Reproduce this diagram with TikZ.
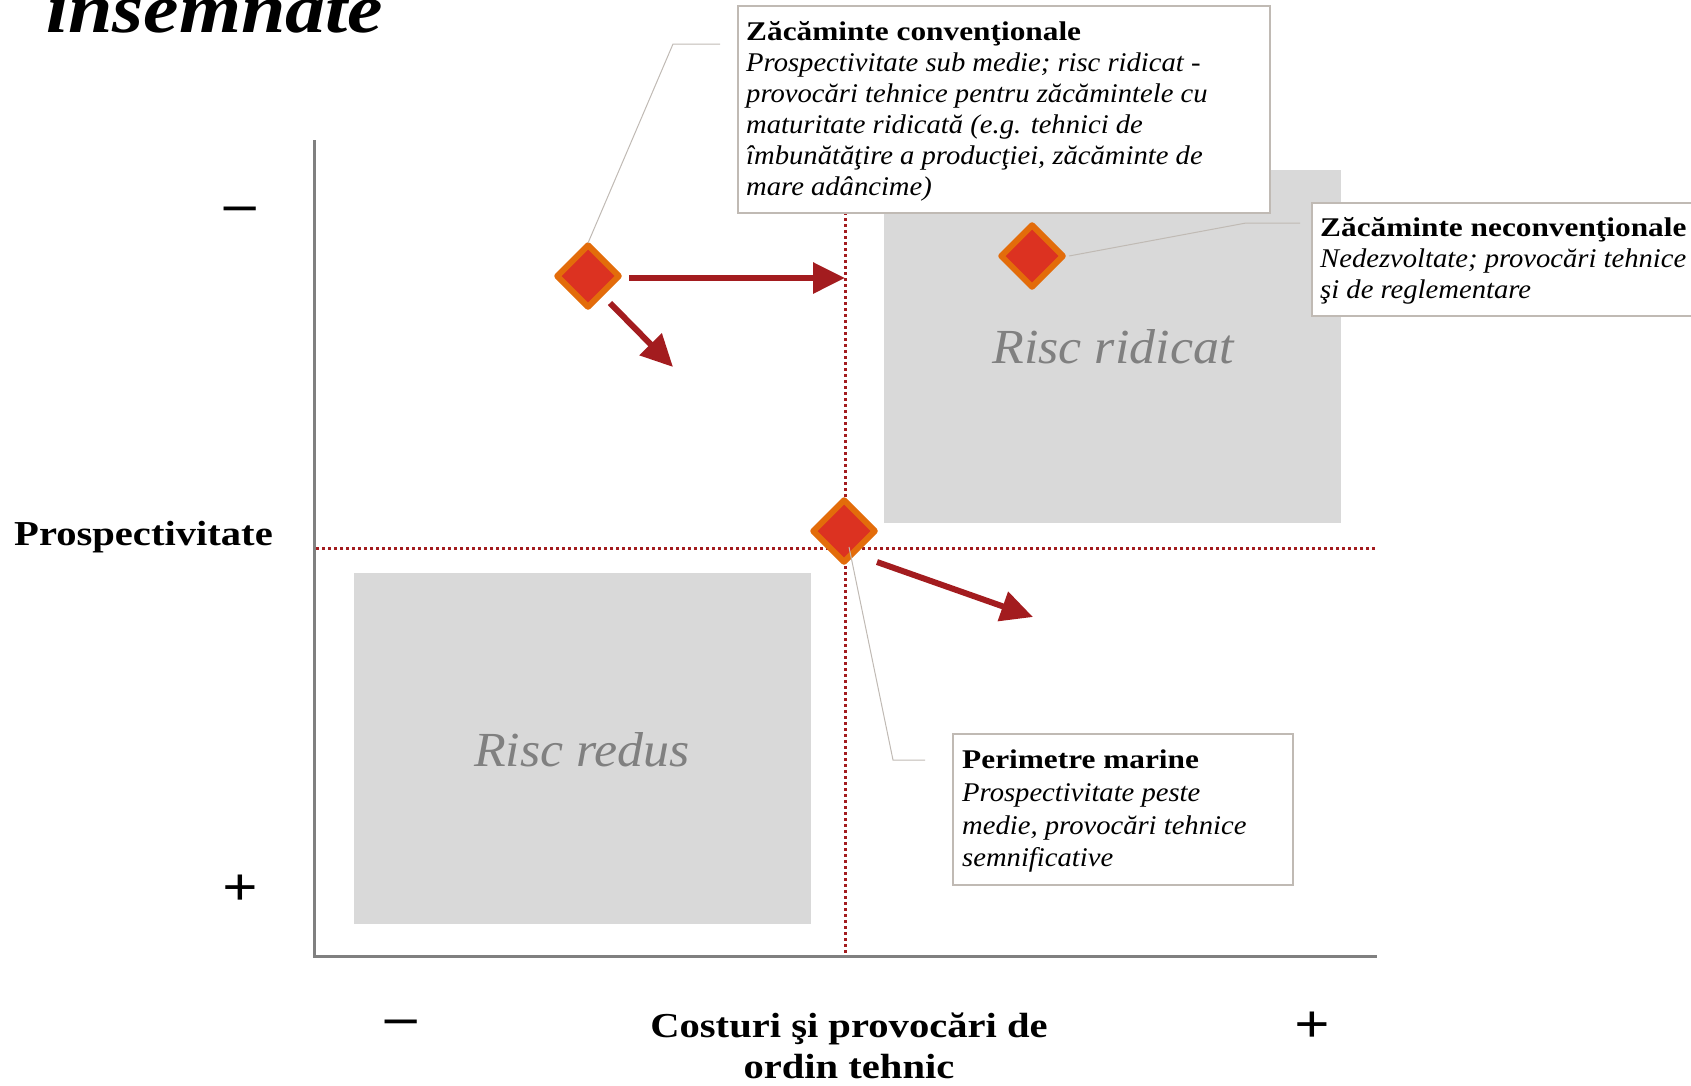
\documentclass[tikz,border=0pt]{standalone}
\usepackage{fontspec}
\setmainfont{Liberation Serif}[ItalicFeatures={FakeStretch=1.06}, BoldFeatures={FakeStretch=1.16}, BoldItalicFeatures={FakeStretch=1.14}]
\usetikzlibrary{arrows.meta,shapes.geometric}
\definecolor{zonegray}{HTML}{D9D9D9}
\definecolor{zonetext}{HTML}{808080}
\definecolor{axisgray}{HTML}{808080}
\definecolor{darrow}{HTML}{A31C1F}
\definecolor{dfill}{HTML}{DC3221}
\definecolor{dborder}{HTML}{E36C0A}
\definecolor{callgray}{HTML}{C0BAB4}
\tikzset{
  zone/.style={fill=zonegray, draw=none, anchor=north west, inner sep=0pt},
  zonelabel/.style={text=zonetext, font=\fontsize{49}{60}\selectfont\itshape, inner sep=0pt},
  guide/.style={draw=darrow, line width=3pt, dash pattern=on 3pt off 3pt},
  axisline/.style={draw=axisgray, line width=3pt},
  arr/.style={draw=darrow, line width=6pt, -{Triangle[length=32pt,width=30pt]}},
  marker/.style={shape=diamond, aspect=1, minimum width=64pt, minimum height=64pt, inner sep=0pt, fill=dfill, draw=dborder, line width=6pt, line join=round},
  callline/.style={draw=callgray, line width=1pt},
  callbox/.style={draw=callgray, fill=white, line width=1.5pt, anchor=north west, inner sep=0pt},
  cline/.style={anchor=base west, inner sep=0pt, font=\fontsize{27}{31}\selectfont\itshape},
  chead/.style={anchor=base west, inner sep=0pt, font=\fontsize{27}{31}\selectfont\bfseries},
  axlabel/.style={inner sep=0pt, font=\fontsize{35}{41}\selectfont\bfseries},
  sign/.style={inner sep=0pt, anchor=base, font=\fontsize{54}{60}\selectfont\bfseries}
}
\begin{document}
\begin{tikzpicture}[x=1pt,y=-1pt]
\useasboundingbox (0,0) rectangle (1691,1085);
% title (cut off at top)
\node[anchor=base west, inner sep=0pt, font=\fontsize{70}{72}\selectfont\bfseries\itshape] (title) at (46,32) {însemnate};
% zones
\node[zone, minimum width=457pt, minimum height=353pt] (zhigh) at (884,170) {};
\node[zone, minimum width=457pt, minimum height=351pt] (zlow) at (354,573) {};
\node[zonelabel] (lhigh) at (1113,347) {Risc ridicat};
\node[zonelabel] (llow) at (582,750) {Risc redus};
% guides
\coordinate (gh1) at (316,548); \coordinate (gh2) at (1375,548);
\coordinate (gv1) at (845,200); \coordinate (gv2) at (845,954);
\draw[guide] (gh1) -- (gh2);
\draw[guide] (gv1) -- (gv2);
% axes
\coordinate (axtop) at (314,140); \coordinate (axorig) at (314,956); \coordinate (axright) at (1377,956);
\draw[axisline] (axtop) -- (axorig) -- (axright);
% markers
\node[marker] (d1) at (588,276) {};
\node[marker] (d2) at (1032,256) {};
\node[marker] (d3) at (844,531) {};
% arrows
\coordinate (a1s) at (629,278); \coordinate (a1e) at (845,278);
\coordinate (a2s) at (610,303); \coordinate (a2e) at (673,367);
\coordinate (a3s) at (877,562); \coordinate (a3e) at (1033,617);
\draw[arr] (a1s) -- (a1e);
\draw[arr] (a2s) -- (a2e);
\draw[arr] (a3s) -- (a3e);
% callout leaders
\coordinate (c1a) at (673,44); \coordinate (c1b) at (720,44);
\coordinate (c2a) at (1246,223); \coordinate (c2b) at (1300,223);
\coordinate (c3s) at (849,547); \coordinate (c3a) at (893,760); \coordinate (c3b) at (925,760);
\draw[callline] ([yshift=-2]d1.north) -- (c1a) -- (c1b);
\draw[callline] ([xshift=2]d2.east) -- (c2a) -- (c2b);
\draw[callline] (c3s) -- (c3a) -- (c3b);
% callout boxes
\node[callbox, minimum width=532pt, minimum height=207pt] (box1) at (737,5) {};
\node[callbox, minimum width=400pt, minimum height=113pt] (box2) at (1311,202) {};
\node[callbox, minimum width=340pt, minimum height=151pt] (box3) at (952,733) {};
% box 1 text
\node[chead] (b1h) at (746,40) {Zăcăminte convenţionale};
\node[cline] (b1a) at (746,71) {Prospectivitate sub medie; risc ridicat -};
\node[cline] (b1b) at (746,102) {provocări tehnice pentru zăcămintele cu};
\node[cline] (b1c) at (746,133) {maturitate ridicată (e.g. tehnici de};
\node[cline] (b1d) at (746,164) {îmbunătăţire a producţiei, zăcăminte de};
\node[cline] (b1e) at (746,195) {mare adâncime)};
% box 2 text
\node[chead] (b2h) at (1320,236) {Zăcăminte neconvenţionale};
\node[cline] (b2a) at (1320,267) {Nedezvoltate; provocări tehnice};
\node[cline] (b2b) at (1320,298) {şi de reglementare};
% box 3 text
\node[chead] (b3h) at (962,768) {Perimetre marine};
\node[cline] (b3a) at (962,801) {Prospectivitate peste};
\node[cline] (b3b) at (962,834) {medie, provocări tehnice};
\node[cline] (b3c) at (962,866) {semnificative};
% axis labels
\node[axlabel, anchor=base west] (ylab) at (14,545) {Prospectivitate};
\node[sign] (ymin) at (240,221) {–};
\node[sign] (yplus) at (240,905) {+};
\node[sign] (xmin) at (401,1034) {–};
\node[sign] (xplus) at (1312,1042) {+};
\node[axlabel, anchor=base] (xlab1) at (849,1037) {Costuri şi provocări de};
\node[axlabel, anchor=base] (xlab2) at (849,1078) {ordin tehnic};
\end{tikzpicture}
\end{document}
